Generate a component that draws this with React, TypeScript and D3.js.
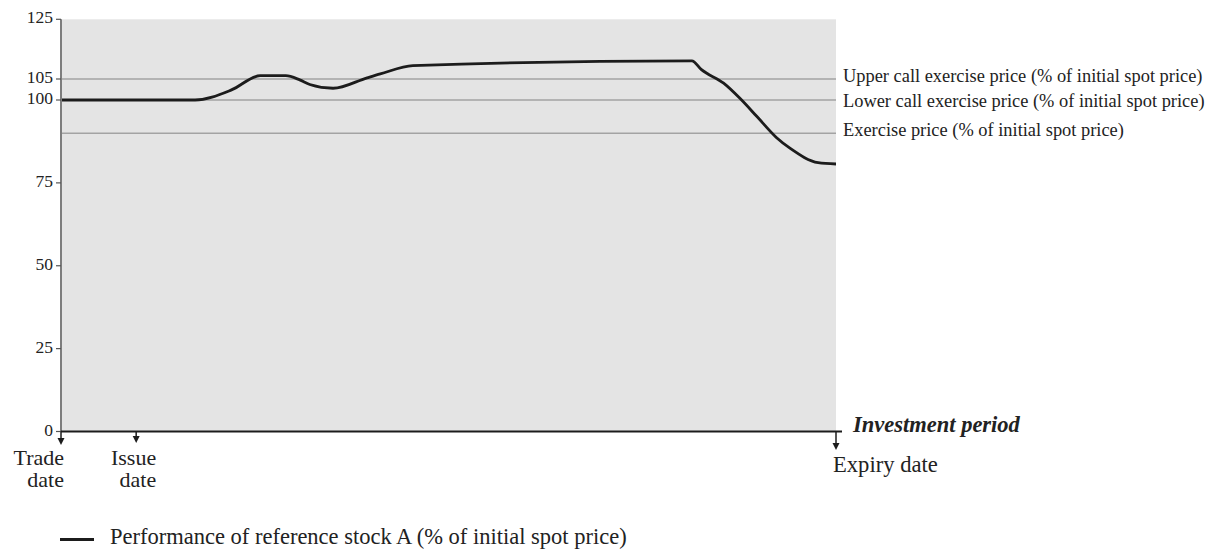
import React from "react";
import * as d3 from "d3";

const periodX: number[] = [0, 17.3, 22.0, 25.7, 29.0, 30.8, 32.1, 35.1, 39.5, 41.2, 45.4, 81.4, 82.6, 85.5, 87.6, 89.8, 92.3, 94.1, 97.7, 100];
const stockA: number[] = [100, 100, 102.4, 106.1, 106.1, 104.8, 103.7, 102.8, 105.4, 106.7, 109.5, 111.1, 108.2, 104.0, 100.4, 95.0, 88.7, 85.4, 81.1, 80.7];

const yTicks: number[] = [0, 25, 50, 75, 100, 105, 125];
const refValues: number[] = [105, 100, 90];
const refLabels: string[] = [
  "Upper call exercise price (% of initial spot price)",
  "Lower call exercise price (% of initial spot price)",
  "Exercise price (% of initial spot price)",
];
const dateX: number[] = [0, 9.7, 100];
const dateLabels: string[][] = [["Trade", "date"], ["Issue", "date"], ["Expiry date"]];
const xAxisTitle = "Investment period";
const legendLabel = "Performance of reference stock A (% of initial spot price)";

const FONT = "'Liberation Serif', 'Times New Roman', serif";

export default function App() {
  const x = d3.scaleLinear().domain([0, 100]).range([61, 836]);
  const y = d3.scaleLinear().domain([0, 100, 105, 125]).range([431.5, 100, 79, 19.3]);
  const pts: [number, number][] = periodX.map((p, i) => [p, stockA[i]]);
  const line = d3
    .line<[number, number]>()
    .x((d) => x(d[0]))
    .y((d) => y(d[1]))
    .curve(d3.curveMonotoneX);
  const y0 = y(0);
  const refOffsets = [-1, 3, -1];
  return (
    <svg
      width={1205}
      height={549}
      style={{ position: "absolute", left: 0, top: 0, display: "block", background: "#fff" }}
      fontFamily={FONT}
    >
      <rect x={x(0)} y={y(125)} width={x(100) - x(0)} height={y(0) - y(125)} fill="#e4e4e4" />
      {refValues.map((v, i) => (
        <g key={i}>
          <line x1={x(0)} x2={x(100)} y1={y(v)} y2={y(v)} stroke="#a3a3a3" strokeWidth={1.5} />
          <text x={843} y={y(v) + refOffsets[i]} fontSize={18.4} dominantBaseline="middle" fill="#222">
            {refLabels[i]}
          </text>
        </g>
      ))}
      <path d={line(pts) || ""} fill="none" stroke="#1c1c1c" strokeWidth={2.8} strokeLinejoin="round" />
      <line x1={x(0)} x2={x(0)} y1={y(125)} y2={y0} stroke="#7d7d7d" strokeWidth={2} />
      {yTicks.map((t) => (
        <g key={t}>
          <line x1={x(0) - 5} x2={x(0)} y1={y(t)} y2={y(t)} stroke="#555" strokeWidth={1.2} />
          <text x={x(0) - 8} y={y(t)} textAnchor="end" dominantBaseline="middle" fontSize={17.5} fill="#222">
            {t}
          </text>
        </g>
      ))}
      <line x1={x(0)} x2={x(100) + 6} y1={y0} y2={y0} stroke="#1c1c1c" strokeWidth={2} />
      {dateX.map((d, i) => {
        const cx = x(d);
        const tip = i === 2 ? 450 : i === 0 ? 445 : 443;
        return (
          <g key={i}>
            <line x1={cx} x2={cx} y1={y0} y2={tip - 5} stroke="#1c1c1c" strokeWidth={1.5} />
            <path d={`M${cx - 3.5},${tip - 7} L${cx + 3.5},${tip - 7} L${cx},${tip} Z`} fill="#1c1c1c" />
            {i < 2 ? (
              dateLabels[i].map((s, j) => (
                <text key={j} x={cx + (i === 0 ? 3 : 20)} y={464.5 + j * 22.5} textAnchor="end" fontSize={22} fill="#222">
                  {s}
                </text>
              ))
            ) : (
              <text x={cx - 3} y={471.5} fontSize={22.6} fill="#222">
                {dateLabels[i][0]}
              </text>
            )}
          </g>
        );
      })}
      <text x={853} y={432} fontSize={22.5} fontWeight="bold" fontStyle="italic" fill="#222">
        {xAxisTitle}
      </text>
      <line x1={60} x2={94} y1={539.5} y2={539.5} stroke="#1c1c1c" strokeWidth={3} />
      <text x={110} y={543.5} fontSize={22.5} fill="#222">
        {legendLabel}
      </text>
    </svg>
  );
}
